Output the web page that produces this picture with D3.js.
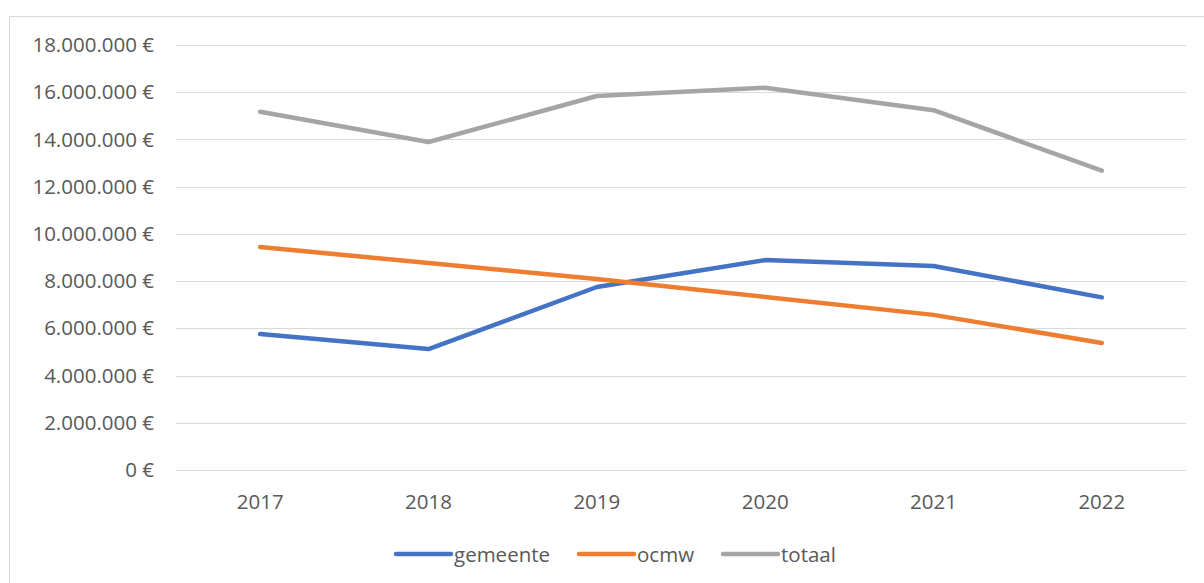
<!DOCTYPE html>
<html>
<head>
<meta charset="utf-8">
<script src="https://cdn.jsdelivr.net/npm/d3@7"></script>
<style>
  html, body { margin: 0; padding: 0; background: #fff; }
  svg { display: block; }
</style>
</head>
<body>
<svg id="chart"></svg>
<script>
const years = ["2017", "2018", "2019", "2020", "2021", "2022"];
const gemeente = [5760000, 5120000, 7750000, 8890000, 8640000, 7310000];
const ocmw = [9440000, 8770000, 8090000, 7330000, 6570000, 5380000];
const totaal = [15170000, 13890000, 15840000, 16190000, 15240000, 12680000];
const yTicks = [0, 2000000, 4000000, 6000000, 8000000, 10000000, 12000000, 14000000, 16000000, 18000000];

const series = [
    { name: "gemeente", values: gemeente, color: "#4472c4" },
    { name: "ocmw", values: ocmw, color: "#ed7d31" },
    { name: "totaal", values: totaal, color: "#a5a5a5" }
];

const width = 1204, height = 583;
const font = "'Open Sans', 'Liberation Sans', sans-serif";
const textColor = "#595959";
const fontSize = "20.5px";

const svg = d3.select("#chart")
    .attr("width", width)
    .attr("height", height)
    .style("background-color", "white");

// chart frame
svg.append("rect")
    .attr("x", 9.5).attr("y", 16.5)
    .attr("width", 1204).attr("height", 600)
    .attr("fill", "none")
    .attr("stroke", "#d9d9d9")
    .attr("stroke-width", 1);

const x = d3.scaleBand().domain(years).range([176, 1186]);
const y = d3.scaleLinear().domain([0, 18000000]).range([470, 45]);

const fmt = v => d3.format(",")(v).replace(/,/g, ".") + " €";

// gridlines
svg.append("g")
    .selectAll("line")
    .data(yTicks)
    .join("line")
        .attr("x1", 176).attr("x2", 1186)
        .attr("y1", d => Math.round(y(d)) + 0.5)
        .attr("y2", d => Math.round(y(d)) + 0.5)
        .attr("stroke", "#d9d9d9")
        .attr("stroke-width", 1);

// y axis labels
const yAxis = svg.append("g")
    .attr("transform", "translate(154,0)")
    .call(d3.axisLeft(y).tickValues(yTicks).tickFormat(fmt).tickSize(0).tickPadding(0));
yAxis.select(".domain").remove();
yAxis.selectAll("text")
    .attr("fill", textColor)
    .style("font-family", font)
    .style("font-size", fontSize);

// x axis labels
const xAxis = svg.append("g")
    .attr("transform", "translate(0,509)")
    .call(d3.axisBottom(x).tickSize(0).tickPadding(0));
xAxis.select(".domain").remove();
xAxis.selectAll("text")
    .attr("fill", textColor)
    .attr("dy", "0")
    .style("font-family", font)
    .style("font-size", fontSize);

const line = d3.line()
    .x((d, i) => x(years[i]) + x.bandwidth() / 2)
    .y(d => y(d));

svg.append("g")
    .selectAll("path")
    .data(series)
    .join("path")
        .attr("d", d => line(d.values))
        .attr("fill", "none")
        .attr("stroke", d => d.color)
        .attr("stroke-width", 4.5)
        .attr("stroke-linecap", "round")
        .attr("stroke-linejoin", "round");

// legend
const legendX = [396, 579, 723];
const legend = svg.append("g")
    .selectAll("g")
    .data(series)
    .join("g")
        .attr("transform", (d, i) => `translate(${legendX[i]},554)`);

legend.append("line")
    .attr("x1", 0).attr("x2", 55)
    .attr("stroke", d => d.color)
    .attr("stroke-width", 4.5)
    .attr("stroke-linecap", "round");

legend.append("text")
    .attr("x", 58)
    .attr("y", 8)
    .attr("fill", textColor)
    .style("font-family", font)
    .style("font-size", fontSize)
    .text(d => d.name);
</script>
</body>
</html>
